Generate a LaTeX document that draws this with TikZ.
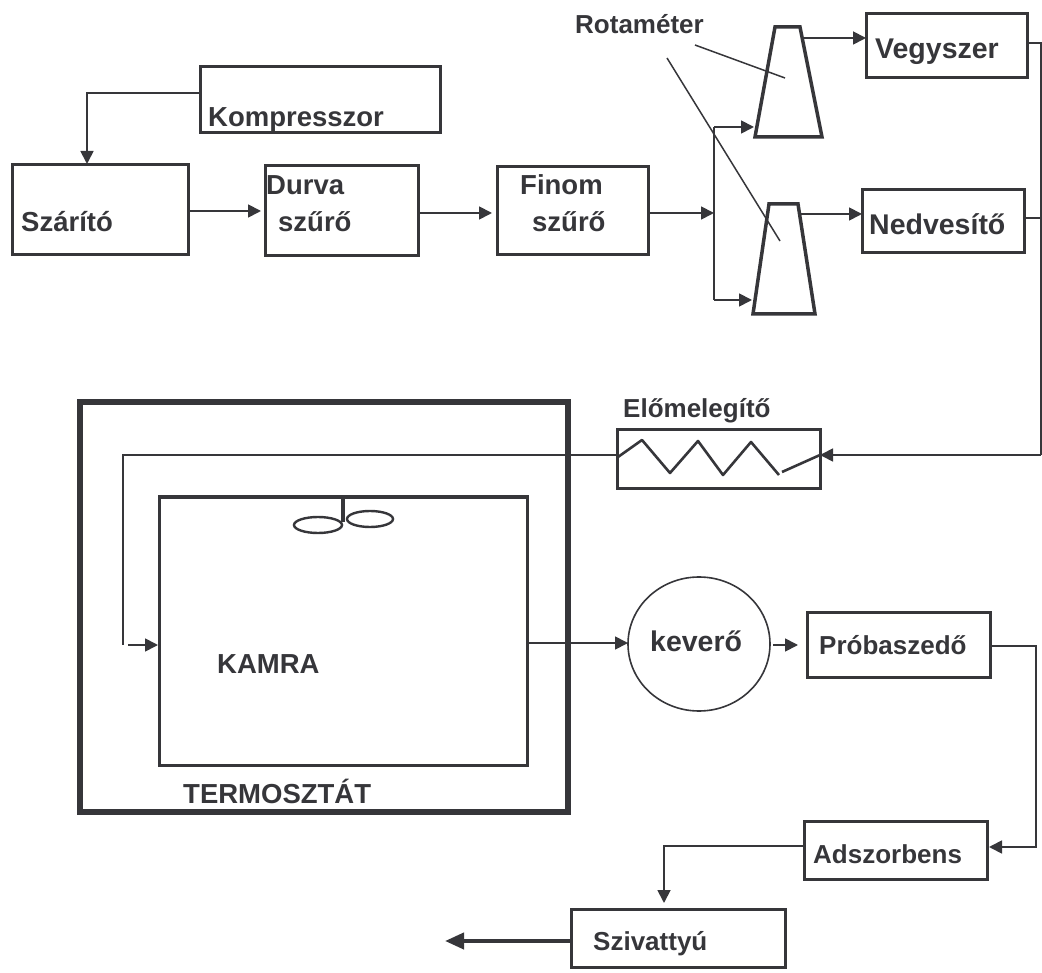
\documentclass[tikz,border=0pt]{standalone}
\usepackage{fontspec}
\setmainfont{Liberation Sans}
\usetikzlibrary{arrows.meta,shapes.geometric}
\definecolor{ink}{HTML}{36363A}
\newcommand{\fsz}[1]{\bfseries\fontsize{#1}{#1}\selectfont}
\tikzset{
  box/.style={draw=ink,line width=3pt,rectangle,inner sep=0pt,outer sep=0pt,anchor=north west},
  lab/.style={text=ink,font=\fsz{27.5},inner sep=0pt,anchor=base west},
  small/.style={lab,font=\fsz{26}},
  big/.style={lab,font=\fsz{28.5}},
  conn/.style={draw=ink,line width=1.8pt},
  flow/.style={conn,-{Triangle[length=13pt,width=13pt]}},
  rot/.style={draw=ink,line width=3.5pt,line join=miter},
  coil/.style={draw=ink,line width=2.6pt,line join=round},
  blade/.style={draw=ink,line width=2.4pt},
}
\newcommand{\bx}[5]{\node[box,minimum width=#4-#2,minimum height=#5-#3] (#1) at (#2,#3) {};}
\begin{document}
\begin{tikzpicture}[x=1pt,y=-1pt]
\useasboundingbox (0,0) rectangle (1042,973);
% boxes
\bx{komp}{200}{67}{440}{133}
\bx{szar}{12}{165}{188}{255}
\bx{durva}{265}{166}{418}{256}
\bx{finom}{497}{167}{648}{255}
\bx{vegy}{866}{14}{1027}{78}
\bx{nedv}{862}{190}{1024}{253}
\bx{elo}{617}{430}{820}{489}
\node[box,line width=5.5pt,minimum width=488pt,minimum height=410pt] (termo) at (80,402) {};
\bx{kamra}{159}{497}{527}{765}
\bx{proba}{807}{612}{990}{677}
\bx{adsz}{804}{821}{987}{879}
\bx{sziv}{571}{909}{785}{967}
\node[draw=ink,line width=1.6pt,ellipse,minimum width=142pt,minimum height=134pt,inner sep=0pt,outer sep=0pt] (kev) at (699,644) {};
% rotameters
\coordinate (rota) at (788,82);
\coordinate (rotb) at (784,259);
\draw[rot] (775,27) -- (800,27) -- (822,137) -- (755,137) -- cycle;
\draw[rot] (769,204) -- (798,204) -- (815,314) -- (753,314) -- cycle;
% labels
\node[lab] (tkomp) at (208,127) {Kompresszor};
\node[lab] (tszar) at (21,232) {Szárító};
\node[lab] (tdurva1) at (266,195) {Durva};
\node[lab] (tdurva2) at (278,232) {szűrő};
\node[lab] (tfinom1) at (520,195) {Finom};
\node[lab] (tfinom2) at (532,232) {szűrő};
\node[small] (trot) at (575,34) {Rotaméter};
\node[big] (tvegy) at (875,59) {Vegyszer};
\node[big] (tnedv) at (869,235) {Nedvesítő};
\node[small] (telo) at (623,418) {Előmelegítő};
\node[lab] (tkamra) at (217,673) {KAMRA};
\node[lab] (ttermo) at (183,803) {TERMOSZTÁT};
\node[big] (tkev) at (650,651) {keverő};
\node[small] (tproba) at (819,654) {Próbaszedő};
\node[small] (tadsz) at (813,863) {Adszorbens};
\node[small] (tsziv) at (593,950) {Szivattyú};
% helper points
\coordinate (kd) at (87,93);
\coordinate (a1) at (0,211);
\coordinate (a2) at (0,213);
\coordinate (ksplit) at (714,213);
\coordinate (ktop) at (714,127);
\coordinate (kbot) at (714,300);
\coordinate (rain) at (754,127);
\coordinate (rbin) at (752,300);
\coordinate (raout) at (803,38);
\coordinate (rbout) at (800,214);
\coordinate (main) at (1041,455);
\coordinate (vout) at (1041,43);
\coordinate (nout) at (1041,218);
\coordinate (supply) at (123,455);
\coordinate (kin) at (123,645);
\coordinate (kin2) at (128,645);
\coordinate (kk) at (0,643);
\coordinate (kp) at (773,645);
\coordinate (pb) at (1036,646);
\coordinate (pc) at (1036,847);
\coordinate (ac) at (664,846);
\coordinate (exit) at (445,941);
\coordinate (l1a) at (695,45);
\coordinate (l1b) at (785,78);
\coordinate (l2a) at (667,58);
\coordinate (l2b) at (780,241);
\coordinate (fanhub) at (343,522);
% connectors
\draw[flow,shorten >=1pt] (komp.west |- kd) -- (kd) -- (kd |- szar.north);
\draw[flow,shorten >=4pt] (szar.east |- a1) -- (durva.west |- a1);
\draw[flow,shorten >=5pt] (durva.east |- a2) -- (finom.west |- a2);
\draw[flow] (finom.east |- ksplit) -- (ksplit);
\draw[conn] (ktop) -- (kbot);
\draw[flow] (ktop) -- (rain);
\draw[flow] (kbot) -- (rbin);
\draw[flow] (raout) -- (vegy.west |- raout);
\draw[flow] (rbout) -- (nedv.west |- rbout);
\draw[conn] (vegy.east |- vout) -- (vout) -- (main);
\draw[conn] (nedv.east |- nout) -- (nout);
\draw[flow] (main) -- (elo.east |- main);
\draw[conn] (elo.west |- supply) -- (supply) -- (kin);
\draw[flow,shorten >=1pt] (kin2) -- (kamra.west |- kin2);
\draw[flow] (kamra.east |- kk) -- (kev.west |- kk);
\draw[flow,shorten >=9pt] (kp) -- (proba.west |- kp);
\draw[flow,shorten >=2pt] (proba.east |- pb) -- (pb) -- (pc) -- (adsz.east |- pc);
\draw[flow,shorten >=6pt] (adsz.west |- ac) -- (ac) -- (ac |- sziv.north);
\draw[draw=ink,line width=4pt,-{Triangle[length=19pt,width=16pt]}] (sziv.west |- exit) -- (exit);
% leaders
\draw[conn,line width=1.5pt] (l1a) -- (l1b);
\draw[conn,line width=1.5pt] (l2a) -- (l2b);
% heater coil
\draw[coil] (618,457) -- (642,440) -- (670,473) -- (698,441) -- (723,475) -- (751,442) -- (779,475);
\draw[coil] (782,472) -- (820,455);
% fan
\draw[draw=ink,line width=3.5pt] (kamra.north -| fanhub) -- (fanhub);
\draw[blade] (318,525) ellipse [x radius=24,y radius=8];
\draw[blade] (370,519) ellipse [x radius=23,y radius=8];
\end{tikzpicture}
\end{document}
